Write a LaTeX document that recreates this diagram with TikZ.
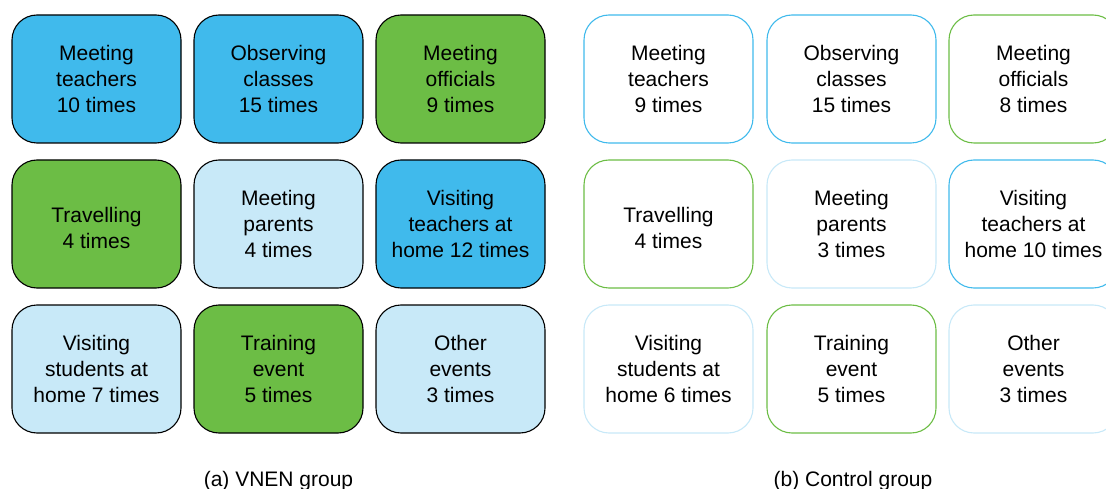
\documentclass[tikz,border=0pt]{standalone}
\usepackage{fontspec}
\setmainfont{Liberation Sans}
\usepackage{xcolor}
\usetikzlibrary{positioning}
\definecolor{azul}{RGB}{64,186,236}
\definecolor{verde}{RGB}{108,189,69}
\definecolor{celeste}{RGB}{200,233,248}

\tikzset{
    caja/.style={rectangle, rounded corners=25pt, minimum width=169pt, minimum height=128pt,
        inner sep=0pt, align=center, line width=1.1pt, font=\fontsize{21}{26}\selectfont},
    vnen/.style={caja, draw=black, fill=#1},
    ctrl/.style={caja, draw=#1, fill=white},
    doslineas/.style={text height=49pt},
    titulo/.style={anchor=base, font=\fontsize{21}{26}\selectfont}
}

\begin{document}
\begin{tikzpicture}[x=1pt, y=-1pt]
        \useasboundingbox (0,0) rectangle (1106,489);
        % Grupo VNEN
        \node[vnen=azul] (a11) at (96.5,79) {Meeting\\teachers\\10 times};
        \node[vnen=azul] (a12) at (278.5,79) {Observing\\classes\\15 times};
        \node[vnen=verde] (a13) at (460.5,79) {Meeting\\officials\\9 times};
        \node[vnen=verde, doslineas] (a21) at (96.5,224) {Travelling\\4 times};
        \node[vnen=celeste] (a22) at (278.5,224) {Meeting\\parents\\4 times};
        \node[vnen=azul] (a23) at (460.5,224) {Visiting\\teachers at\\home 12 times};
        \node[vnen=celeste] (a31) at (96.5,369) {Visiting\\students at\\home 7 times};
        \node[vnen=verde] (a32) at (278.5,369) {Training\\event\\5 times};
        \node[vnen=celeste] (a33) at (460.5,369) {Other\\events\\3 times};
        % Grupo de control
        \node[ctrl=azul] (b11) at (668.5,79) {Meeting\\teachers\\9 times};
        \node[ctrl=azul] (b12) at (851.5,79) {Observing\\classes\\15 times};
        \node[ctrl=verde] (b13) at (1033.5,79) {Meeting\\officials\\8 times};
        \node[ctrl=verde, doslineas] (b21) at (668.5,224) {Travelling\\4 times};
        \node[ctrl=celeste] (b22) at (851.5,224) {Meeting\\parents\\3 times};
        \node[ctrl=azul] (b23) at (1033.5,224) {Visiting\\teachers at\\home 10 times};
        \node[ctrl=celeste] (b31) at (668.5,369) {Visiting\\students at\\home 6 times};
        \node[ctrl=verde] (b32) at (851.5,369) {Training\\event\\5 times};
        \node[ctrl=celeste] (b33) at (1033.5,369) {Other\\events\\3 times};
        % Texto debajo de cada grupo
        \node[titulo] (ta) at (278.5,486) {(a) VNEN group};
        \node[titulo] (tb) at (853,486) {(b) Control group};
    \end{tikzpicture}
\end{document}
